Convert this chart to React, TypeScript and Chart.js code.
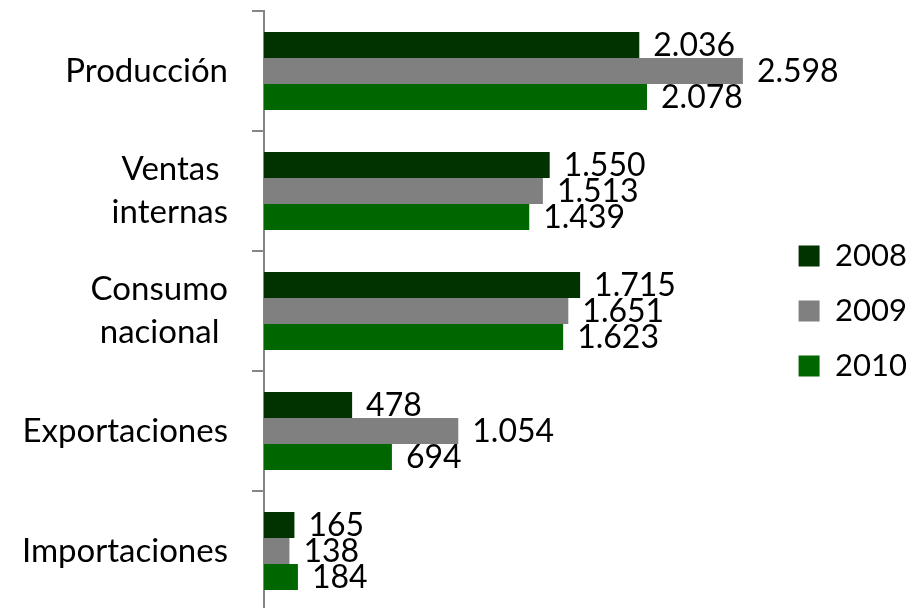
import React, { useEffect, useRef } from "react";
import { Chart, registerables } from "chart.js";

Chart.register(...registerables);

const categories: (string | string[])[] = [
  "Producción",
  ["Ventas ", "internas"],
  ["Consumo", "nacional "],
  "Exportaciones",
  "Importaciones",
];
const seriesNames = ["2008", "2009", "2010"];
const values2008 = [2036, 1550, 1715, 478, 165];
const values2009 = [2598, 1513, 1651, 1054, 138];
const values2010 = [2078, 1439, 1623, 694, 184];
const colors = ["#003300", "#808080", "#006600"];

const FONT = "Lato, 'Open Sans', sans-serif";

function fmt(n: number): string {
  return String(n).replace(/\B(?=(\d{3})+(?!\d))/g, ".");
}

const labelPlugin = {
  id: "valueLabels",
  afterDatasetsDraw(chart: any) {
    const ctx = chart.ctx;
    ctx.save();
    ctx.font = `32px ${FONT}`;
    ctx.fillStyle = "#000";
    ctx.textAlign = "left";
    ctx.textBaseline = "middle";
    chart.data.datasets.forEach((ds: any, di: number) => {
      const meta = chart.getDatasetMeta(di);
      meta.data.forEach((el: any, i: number) => {
        ctx.fillText(fmt(ds.data[i]), el.x + 14, el.y + 1);
      });
    });
    ctx.restore();
  },
};

export default function App() {
  const ref = useRef<HTMLCanvasElement | null>(null);
  useEffect(() => {
    document.body.style.margin = "0";
    const data = [values2008, values2009, values2010];
    const chart = new Chart(ref.current as HTMLCanvasElement, {
      type: "bar",
      data: {
        labels: categories,
        datasets: seriesNames.map((name, i) => ({
          label: name,
          data: data[i],
          backgroundColor: colors[i],
          borderWidth: 0,
          categoryPercentage: 0.65,
          barPercentage: 1,
        })),
      },
      options: {
        indexAxis: "y",
        animation: false,
        responsive: true,
        maintainAspectRatio: false,
        layout: { padding: { top: 11, bottom: 9, left: 0, right: 0 } },
        scales: {
          x: { display: false, min: 0, max: 2770 },
          y: {
            afterFit: (s: any) => {
              s.width = 264;
              s.paddingTop = 0;
              s.paddingBottom = 0;
            },
            grid: {
              drawOnChartArea: false,
              drawTicks: true,
              tickLength: 12,
              color: "#868686",
              lineWidth: 2,
            },
            border: { display: true, color: "#868686", width: 2 },
            ticks: {
              padding: 24,
              color: "#000",
              font: { family: FONT, size: 33, lineHeight: 1.3 },
            },
          },
        },
        plugins: {
          legend: {
            position: "right",
            labels: {
              boxWidth: 21,
              boxHeight: 21,
              padding: 24,
              color: "#000",
              font: { family: FONT, size: 31 },
            },
          },
          tooltip: { enabled: false },
        },
      },
      plugins: [labelPlugin],
    } as any);
    return () => chart.destroy();
  }, []);
  return (
    <div style={{ width: 917, height: 620, position: "relative" }}>
      <canvas ref={ref} />
    </div>
  );
}
